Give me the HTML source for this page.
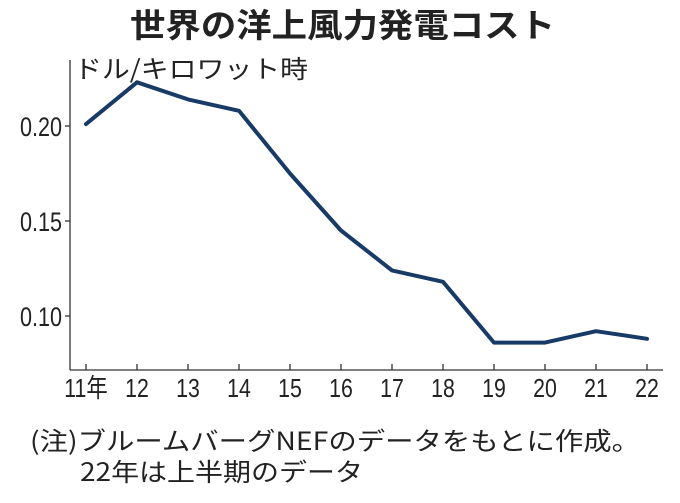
<!DOCTYPE html>
<html><head><meta charset="utf-8"><style>
body{margin:0;background:#fff;width:680px;height:498px;overflow:hidden}
text{font-family:"Liberation Sans","Noto Sans CJK JP",sans-serif}
</style></head><body>
<svg width="680" height="498">
<text x="130" y="37" textLength="425" lengthAdjust="spacingAndGlyphs" font-size="33" font-weight="bold" fill="#222" style="font-family:'Noto Sans CJK JP',sans-serif">世界の洋上風力発電コスト</text>
<text x="74" y="78" textLength="234" lengthAdjust="spacingAndGlyphs" font-size="25" fill="#222" style="font-family:'Noto Sans CJK JP',sans-serif">ドル/キロワット時</text>
<g id="axes"></g>
<text x="30" y="450" textLength="610" lengthAdjust="spacingAndGlyphs" font-size="25" fill="#222" style="font-family:'Noto Sans CJK JP',sans-serif">(注)ブルームバーグNEFのデータをもとに作成。</text>
<text x="80" y="481" textLength="283" lengthAdjust="spacingAndGlyphs" font-size="25" fill="#222" style="font-family:'Noto Sans CJK JP',sans-serif">22年は上半期のデータ</text>
</svg>
<script>
const categories=["11年","12","13","14","15","16","17","18","19","20","21","22"];
const costValues=[0.201,0.223,0.214,0.208,0.175,0.145,0.124,0.118,0.086,0.086,0.092,0.088];
const yTicks=[0.10,0.15,0.20];
const yTickLabels=["0.10","0.15","0.20"];
const NS="http://www.w3.org/2000/svg";
const g=document.getElementById('axes');
const xS=i=>86+i*51;
const yS=v=>316-(v-0.10)*1900;
function mk(t,a){const e=document.createElementNS(NS,t);for(const k in a)e.setAttribute(k,a[k]);g.appendChild(e);return e;}
let e=mk('line',{x1:70,y1:60,x2:70,y2:370,stroke:'#333','stroke-width':1.3});


e=mk('line',{x1:70,y1:370,x2:663,y2:370,stroke:'#333','stroke-width':1.3});


yTicks.forEach((v,i)=>{
 let t=mk('line',{x1:65,x2:70,y1:yS(v),y2:yS(v),stroke:'#333','stroke-width':1.3});
 
 
 let l=mk('text',{x:0,y:0,'text-anchor':'end','font-size':27,fill:'#222',transform:`translate(62,${yS(v)+10}) scale(0.8,1)`});
 l.textContent=yTickLabels[i];
 
 
});
categories.forEach((c,i)=>{
 let t=mk('line',{x1:xS(i),x2:xS(i),y1:364,y2:370,stroke:'#333','stroke-width':1.3});
 
 
 let l=mk('text',{x:0,y:0,'text-anchor':'middle','font-size':26,fill:'#222',transform:`translate(${xS(i)},397) scale(0.82,1)`});
 l.textContent=c;
 
 
});
const p=mk('polyline',{points:costValues.map((v,i)=>xS(i)+','+yS(v)).join(' '),fill:'none',stroke:'#173a66','stroke-width':4,'stroke-linejoin':'round','stroke-linecap':'round'});


</script>
</body></html>
